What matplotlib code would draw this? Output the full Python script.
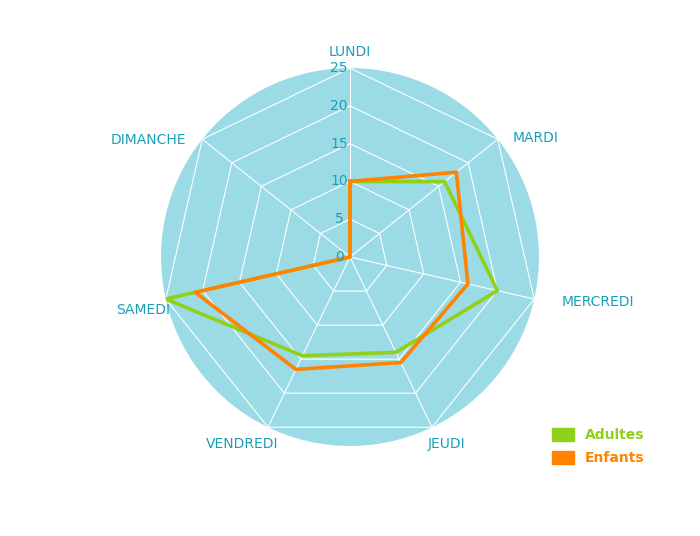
import numpy as np
import matplotlib.pyplot as plt
from matplotlib.patches import Patch

days = ['LUNDI', 'MARDI', 'MERCREDI', 'JEUDI', 'VENDREDI', 'SAMEDI', 'DIMANCHE']
adultes = [10, 16, 20, 14, 14.5, 25, 0]
enfants = [10, 18, 16, 15.5, 16.5, 21, 0]
ticks = [0, 5, 10, 15, 20, 25]

teal = '#1a9fb8'
green = '#8fd018'
orange = '#ff8200'

n = len(days)
ang = np.arange(n) * 2 * np.pi / n
ang_c = np.append(ang, ang[0])

fig = plt.figure(figsize=(7, 5.36), dpi=100)
ax = fig.add_axes([0.23, 0.168, 0.54, 0.705], projection='polar')
ax.set_theta_offset(np.pi / 2)
ax.set_theta_direction(-1)
ax.set_ylim(0, 25)
ax.set_facecolor('#9adbe6')
ax.grid(False)
ax.spines['polar'].set_visible(False)
ax.set_xticks([])
ax.set_yticks([])

# heptagon grid and spokes
for t in ticks[1:]:
    ax.plot(ang_c, [t] * (n + 1), color='white', lw=0.8, zorder=1)
for a in ang:
    ax.plot([a, a], [0, 25], color='white', lw=0.8, zorder=1)

ax.plot(ang_c, adultes + adultes[:1], color=green, lw=2.6, zorder=3)
ax.plot(ang_c, enfants + enfants[:1], color=orange, lw=2.6, zorder=4)

for t in ticks:
    ax.annotate(str(t), (0, t), xytext=(-11, 0), textcoords='offset pixels',
                color=teal, fontsize=10, ha='center', va='center', zorder=5)

# label offsets from the outer vertex, in pixels
offs = [(0, 16), (38, 1), (64, -3), (15, -17), (-26, -17), (-23, -11), (-54, -1)]
for a, d, o in zip(ang, days, offs):
    ax.annotate(d, (a, 25), xytext=o, textcoords='offset pixels',
                color=teal, fontsize=10, fontweight='medium',
                ha='center', va='center', annotation_clip=False)

handles = [Patch(color=green), Patch(color=orange)]
fig.legend(handles, ['Adultes', 'Enfants'], loc='upper left',
           bbox_to_anchor=(0.77, 0.225), frameon=False, fontsize=10,
           labelcolor=[green, orange], handlelength=1.6, handleheight=1.1,
           labelspacing=0.6, prop={'weight': 'semibold'})

fig.savefig('out.png')
